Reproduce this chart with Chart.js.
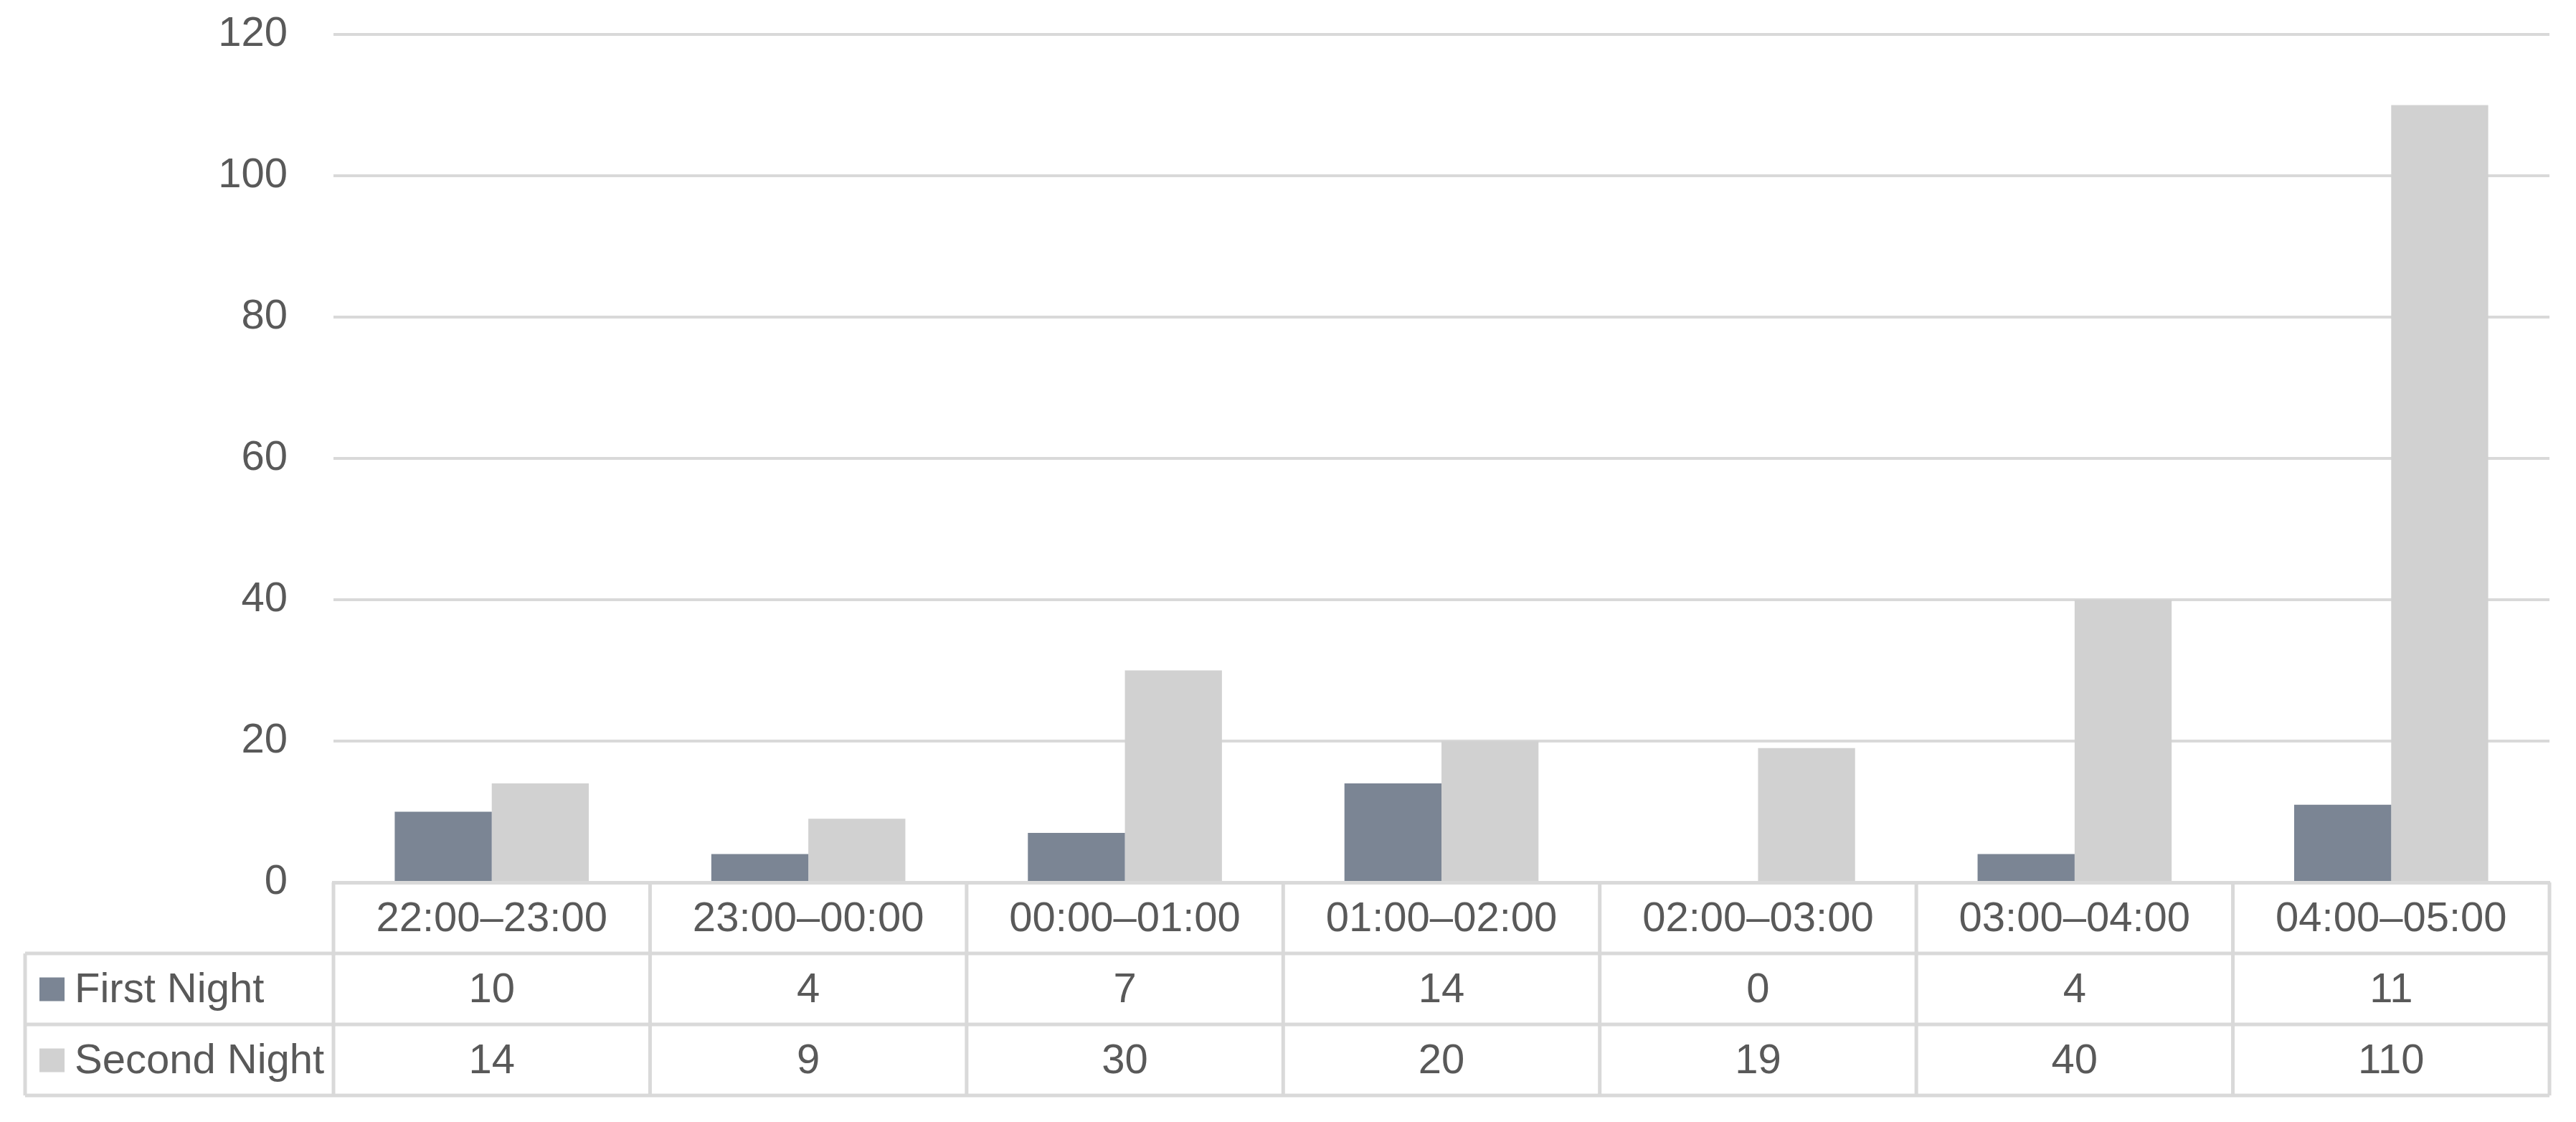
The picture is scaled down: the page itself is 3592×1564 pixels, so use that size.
<!DOCTYPE html>
<html lang="en">
<head>
    <meta charset="UTF-8">
    <title>Nights</title>
    <style>
        body { margin: 0; background: #fff; }
    </style>
</head>
<body>
<script src="https://cdn.jsdelivr.net/npm/chart.js"></script>
<canvas id="myChart" width="3592" height="1564"></canvas>
<script>
    var hours = ['22:00–23:00', '23:00–00:00', '00:00–01:00', '01:00–02:00', '02:00–03:00', '03:00–04:00', '04:00–05:00']
    var firstNight = [10, 4, 7, 14, 0, 4, 11]
    var secondNight = [14, 9, 30, 20, 19, 40, 110]
    var yTicks = [0, 20, 40, 60, 80, 100, 120]

    var textColor = '#595959'
    var lineColor = '#d9d9d9'
    var fontFamily = "'Liberation Sans', Arial, sans-serif"
    var fontSize = 58

    // data table under the x axis, Excel style
    const dataTable = {
        id: 'dataTable',
        afterDraw(chart) {
            var ctx = chart.ctx
            var x = chart.scales.x
            var area = chart.chartArea
            var rowH = 99
            var top = area.bottom
            var bottom = top + rowH * 3
            var tableLeft = 35
            var colW = (area.right - area.left) / hours.length
            var rows = [
                { name: 'First Night', color: chart.data.datasets[0].backgroundColor, values: firstNight },
                { name: 'Second Night', color: chart.data.datasets[1].backgroundColor, values: secondNight }
            ]

            ctx.save()
            ctx.strokeStyle = lineColor
            ctx.lineWidth = 5
            ctx.beginPath()
            for (var i = 0; i <= hours.length; i++) {
                var vx = area.left + i * colW
                ctx.moveTo(vx, top)
                ctx.lineTo(vx, bottom)
            }
            ctx.moveTo(tableLeft, top + rowH)
            ctx.lineTo(tableLeft, bottom)
            for (var r = 1; r <= 3; r++) {
                ctx.moveTo(tableLeft, top + r * rowH)
                ctx.lineTo(area.right, top + r * rowH)
            }
            ctx.stroke()

            ctx.fillStyle = textColor
            ctx.font = fontSize + 'px ' + fontFamily
            ctx.textAlign = 'center'
            ctx.textBaseline = 'middle'
            hours.forEach(function (h, i) {
                ctx.fillText(h, x.getPixelForValue(i), top + rowH / 2 + 2)
            })
            rows.forEach(function (row, r) {
                var cy = top + rowH * (r + 1) + rowH / 2 + 2
                row.values.forEach(function (v, i) {
                    ctx.fillStyle = textColor
                    ctx.textAlign = 'center'
                    ctx.fillText(String(v), x.getPixelForValue(i), cy)
                })
                ctx.fillStyle = row.color
                ctx.fillRect(55, cy - 18, 35, 33)
                ctx.fillStyle = textColor
                ctx.textAlign = 'left'
                ctx.fillText(row.name, 104, cy)
            })
            ctx.restore()
        }
    }

    const data = {
        labels: hours,
        datasets: [{
            label: 'First Night',
            backgroundColor: '#7b8594',
            data: firstNight,
            categoryPercentage: 0.613,
            barPercentage: 1.0
        }, {
            label: 'Second Night',
            backgroundColor: '#d1d1d1',
            data: secondNight,
            categoryPercentage: 0.613,
            barPercentage: 1.0
        }]
    }

    const config = {
        type: 'bar',
        data,
        options: {
            responsive: false,
            animation: false,
            devicePixelRatio: 1,
            layout: { padding: { top: 48, right: 37, bottom: 334, left: 0 } },
            plugins: { legend: { display: false }, tooltip: { enabled: false } },
            scales: {
                x: {
                    ticks: { display: false },
                    grid: { display: false, drawTicks: false },
                    border: { display: true, color: lineColor, width: 5 },
                    afterFit(scale) { scale.height = 0 }
                },
                y: {
                    min: 0,
                    max: 120,
                    afterBuildTicks(scale) { scale.ticks = yTicks.map(v => ({ value: v })) },
                    ticks: {
                        color: textColor,
                        padding: 64,
                        font: { family: fontFamily, size: fontSize }
                    },
                    grid: { color: lineColor, lineWidth: 4, drawTicks: false },
                    border: { display: false },
                    afterFit(scale) {
                        scale.width = 465
                        scale.paddingTop = 0
                        scale.paddingBottom = 0
                    }
                }
            }
        },
        plugins: [dataTable]
    }

    var myChart = new Chart(document.getElementById('myChart'), config)
</script>
</body>
</html>
